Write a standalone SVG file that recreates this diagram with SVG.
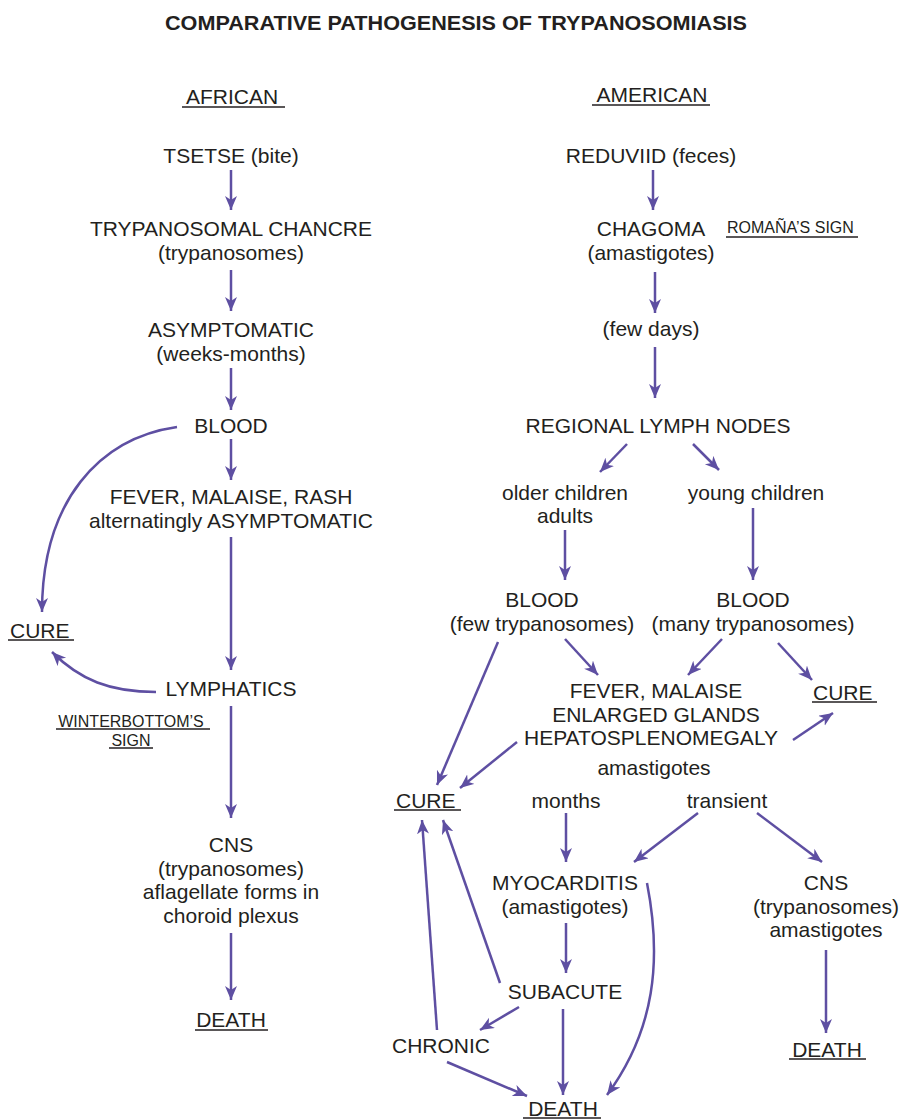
<svg xmlns="http://www.w3.org/2000/svg" width="902" height="1120" viewBox="0 0 902 1120">
<style>
text{font-family:"Liberation Sans",Arial,sans-serif;font-size:21px;fill:#231f20}
.c{text-anchor:middle}
.s{font-size:16px}
.t{font-weight:bold;font-size:20px}
.u{stroke:#231f20;stroke-width:1.5}
.a{stroke:#5e4fa2;stroke-width:2.5;fill:none;marker-end:url(#ah)}
</style>
<defs>
<marker id="ah" markerUnits="userSpaceOnUse" markerWidth="16" markerHeight="14" refX="14" refY="6" orient="auto">
<path d="M0,0 L14,6 L0,12 L4,6 z" fill="#5e4fa2"/>
</marker>
</defs>
<rect width="902" height="1120" fill="#fff"/>
<text class="t c" x="456" y="30" textLength="582" lengthAdjust="spacingAndGlyphs">COMPARATIVE PATHOGENESIS OF TRYPANOSOMIASIS</text>

<g id="african-head"><text class="c" x="232" y="104">AFRICAN</text><line class="u" x1="182" y1="107" x2="285" y2="107"/></g>
<g id="tsetse"><text class="c" x="231" y="163">TSETSE (bite)</text></g>
<g id="chancre"><text class="c" x="231" y="236">TRYPANOSOMAL CHANCRE</text><text class="c" x="231" y="260">(trypanosomes)</text></g>
<g id="asymp"><text class="c" x="231" y="337">ASYMPTOMATIC</text><text class="c" x="231" y="361">(weeks-months)</text></g>
<g id="blood-a"><text class="c" x="231" y="433">BLOOD</text></g>
<g id="fever-a"><text class="c" x="231" y="504">FEVER, MALAISE, RASH</text><text class="c" x="231" y="528">alternatingly ASYMPTOMATIC</text></g>
<g id="cure-a"><text x="10" y="638">CURE</text><line class="u" x1="8" y1="640" x2="74" y2="640"/></g>
<g id="lymphatics"><text class="c" x="231" y="696">LYMPHATICS</text></g>
<g id="winterbottom"><text class="s c" x="131" y="727">WINTERBOTTOM’S</text><line class="u" x1="56" y1="729" x2="210" y2="729"/><text class="s c" x="131" y="746">SIGN</text><line class="u" x1="109" y1="748" x2="153" y2="748"/></g>
<g id="cns-a"><text class="c" x="231" y="852">CNS</text><text class="c" x="231" y="876">(trypanosomes)</text><text class="c" x="231" y="899">aflagellate forms in</text><text class="c" x="231" y="923">choroid plexus</text></g>
<g id="death-a"><text class="c" x="231" y="1027">DEATH</text><line class="u" x1="195" y1="1030" x2="268" y2="1030"/></g>

<g id="american-head"><text class="c" x="652" y="102">AMERICAN</text><line class="u" x1="592" y1="105" x2="710" y2="105"/></g>
<g id="reduviid"><text class="c" x="651" y="163">REDUVIID (feces)</text></g>
<g id="chagoma"><text class="c" x="651" y="236">CHAGOMA</text><text class="c" x="651" y="260">(amastigotes)</text></g>
<g id="romana"><text class="s" x="727" y="233">ROMAÑA’S SIGN</text><line class="u" x1="726" y1="237" x2="858" y2="237"/></g>
<g id="fewdays"><text class="c" x="651" y="336">(few days)</text></g>
<g id="lymphnodes"><text class="c" x="658" y="433">REGIONAL LYMPH NODES</text></g>
<g id="older"><text class="c" x="565" y="500">older children</text><text class="c" x="565" y="523">adults</text></g>
<g id="young"><text class="c" x="756" y="500">young children</text></g>
<g id="blood-few"><text class="c" x="542" y="607">BLOOD</text><text class="c" x="542" y="631">(few trypanosomes)</text></g>
<g id="blood-many"><text class="c" x="753" y="607">BLOOD</text><text class="c" x="753" y="631">(many trypanosomes)</text></g>
<g id="fever-b"><text class="c" x="656" y="698">FEVER, MALAISE</text><text class="c" x="656" y="722">ENLARGED GLANDS</text><text class="c" x="651" y="745">HEPATOSPLENOMEGALY</text><text class="c" x="654" y="775">amastigotes</text></g>
<g id="cure-b1"><text x="813" y="700">CURE</text><line class="u" x1="812" y1="702" x2="877" y2="702"/></g>
<g id="cure-b2"><text x="396" y="808">CURE</text><line class="u" x1="394" y1="810" x2="461" y2="810"/></g>
<g id="months"><text class="c" x="566" y="808">months</text></g>
<g id="transient"><text class="c" x="727" y="808">transient</text></g>
<g id="myocarditis"><text class="c" x="565" y="890">MYOCARDITIS</text><text class="c" x="565" y="914">(amastigotes)</text></g>
<g id="cns-b"><text class="c" x="826" y="890">CNS</text><text class="c" x="826" y="914">(trypanosomes)</text><text class="c" x="826" y="937">amastigotes</text></g>
<g id="subacute"><text class="c" x="565" y="999">SUBACUTE</text></g>
<g id="chronic"><text class="c" x="441" y="1053">CHRONIC</text></g>
<g id="death-b1"><text class="c" x="563" y="1116">DEATH</text><line class="u" x1="523" y1="1118" x2="601" y2="1118"/></g>
<g id="death-b2"><text class="c" x="827" y="1057">DEATH</text><line class="u" x1="789" y1="1059" x2="866" y2="1059"/></g>

<g id="connectors">
<path class="a" d="M231,170 V210"/>
<path class="a" d="M231,270 V311"/>
<path class="a" d="M231,368 V410"/>
<path class="a" d="M231,439 V480"/>
<path class="a" d="M231,537 V670"/>
<path class="a" d="M231,706 V818"/>
<path class="a" d="M231,933 V1000"/>
<path class="a" d="M177,427 C100,438 42,500 42,612"/>
<path class="a" d="M156,692 C110,692 80,680 52,652"/>

<path class="a" d="M653,170 V210"/>
<path class="a" d="M655,272 V313"/>
<path class="a" d="M655,347 V398"/>
<path class="a" d="M627,444 L600,472"/>
<path class="a" d="M693,444 L719,470"/>
<path class="a" d="M565,530 V580"/>
<path class="a" d="M753,508 V580"/>
<path class="a" d="M498,642 L437,785"/>
<path class="a" d="M565,639 L598,675"/>
<path class="a" d="M722,639 L688,675"/>
<path class="a" d="M778,643 L812,680"/>
<path class="a" d="M793,740 L833,713"/>
<path class="a" d="M517,742 L460,788"/>
<path class="a" d="M566,813 V862"/>
<path class="a" d="M698,813 L634,862"/>
<path class="a" d="M757,813 L822,862"/>
<path class="a" d="M566,923 V973"/>
<path class="a" d="M500,983 L443,820"/>
<path class="a" d="M437,1030 L422,820"/>
<path class="a" d="M519,1007 L480,1030"/>
<path class="a" d="M447,1062 L527,1096"/>
<path class="a" d="M563,1009 V1095"/>
<path class="a" d="M647,883 C662,960 655,1030 607,1095"/>
<path class="a" d="M826,950 V1033"/>
</g>
</svg>
